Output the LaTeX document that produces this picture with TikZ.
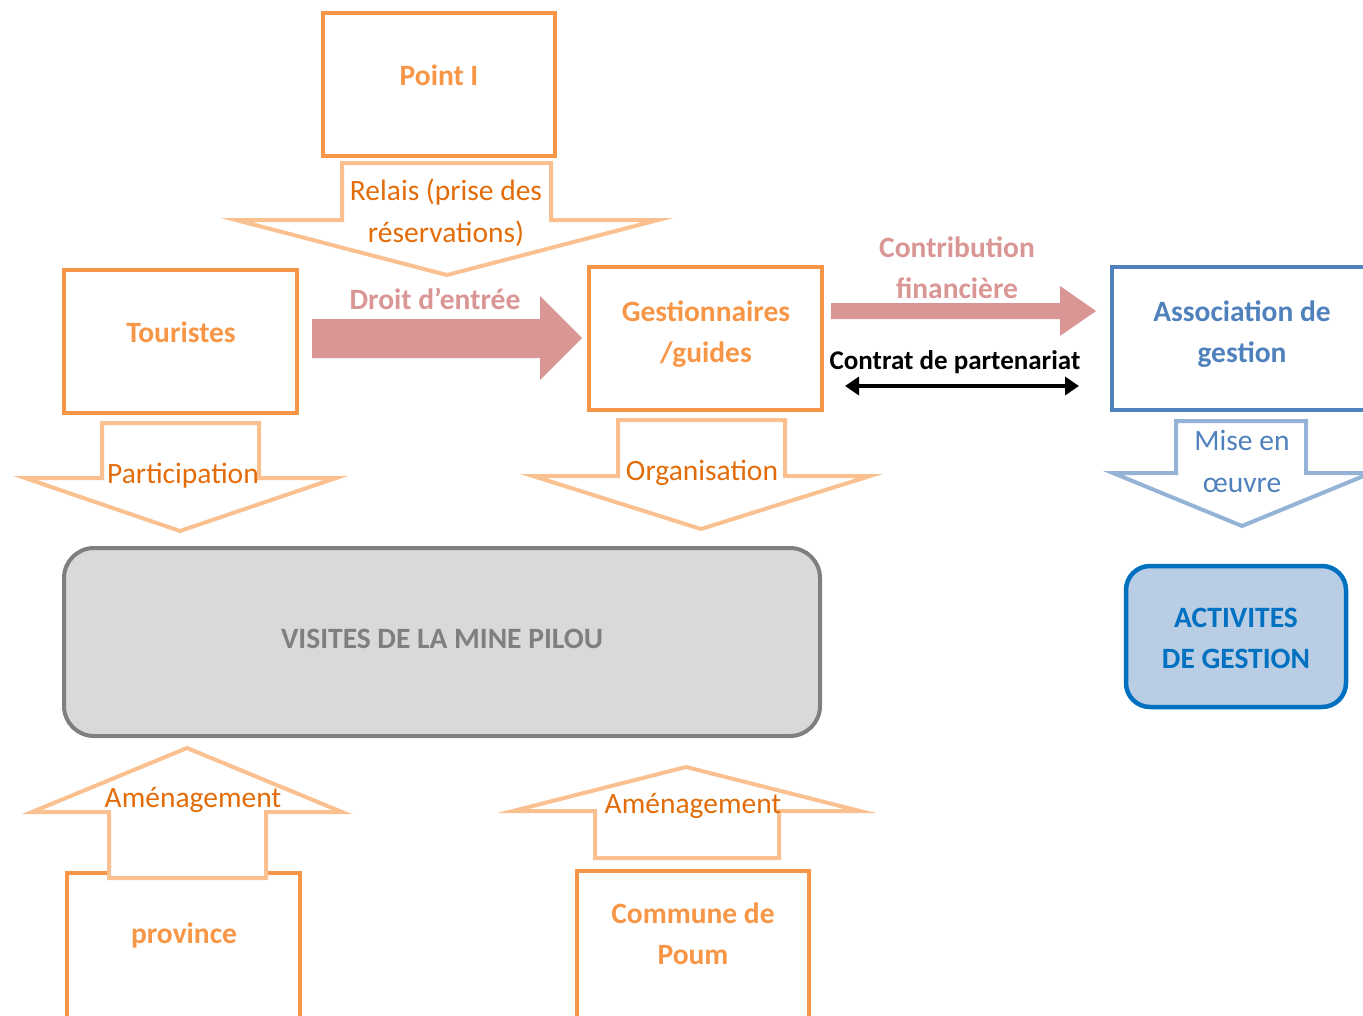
\documentclass[tikz,border=0pt]{standalone}
\usepackage{fontspec}
\setmainfont{Carlito}
\usetikzlibrary{arrows.meta}
\definecolor{boxorange}{HTML}{F79646}
\definecolor{txtorange}{HTML}{E36C09}
\definecolor{lightorange}{HTML}{FAC090}
\definecolor{pinkarrow}{HTML}{D99694}
\definecolor{assocblue}{HTML}{4F81BD}
\definecolor{lightblue}{HTML}{95B3D7}
\definecolor{actblue}{HTML}{0070C0}
\definecolor{actfill}{HTML}{B9CDE5}
\definecolor{visitfill}{HTML}{D9D9D9}
\definecolor{visitline}{HTML}{7F7F7F}
\begin{document}
\begin{tikzpicture}[x=1pt,y=-1pt,
  actor/.style={draw=boxorange,line width=4pt,fill=white},
  boxtext/.style={font=\fontsize{29.5}{41}\selectfont\bfseries,text=boxorange,align=center},
  bigarrow/.style={draw=lightorange,line width=4pt,fill=white,line join=miter},
  arrowtext/.style={font=\fontsize{29.5}{42}\selectfont,text=txtorange,align=center},
  flowarrow/.style={fill=pinkarrow,draw=none},
  flowtext/.style={font=\fontsize{29.5}{41}\selectfont\bfseries,text=pinkarrow,align=center}]
\useasboundingbox (0,0) rectangle (1363,1015);

% partner boxes
\draw[actor] (323,13) rectangle (555,156);
\node[boxtext] (point) at (439,75) {Point I};
\draw[actor] (64,270) rectangle (297,413);
\node[boxtext] (tour) at (181,332) {Touristes};
\draw[actor] (589,267) rectangle (822,410);
\node[boxtext] (gest) at (706,334) {Gestionnaires\\/guides};
\draw[draw=assocblue,line width=4pt] (1112,267) rectangle (1375,410);
\node[boxtext,text=assocblue] (assoc) at (1242,334) {Association de\\gestion};
\draw[actor] (67,873) rectangle (300,1020);
\node[boxtext] (prov) at (184,935) {province};
\draw[actor] (577,871) rectangle (809,1020);
\node[boxtext] (poum) at (693,934) {Commune de\\Poum};

% central activity and management activities
\draw[draw=visitline,fill=visitfill,line width=4pt,rounded corners=30pt] (64,548) rectangle (820,736);
\node[font=\fontsize{29.5}{36}\selectfont\bfseries,text=visitline] (visit) at (442,639) {VISITES DE LA MINE PILOU};
\draw[draw=actblue,fill=actfill,line width=4.5pt,rounded corners=24pt] (1126,566) rectangle (1346,707);
\node[boxtext,text=actblue] (act) at (1236,638) {ACTIVITES\\DE GESTION};

% hollow block arrows
\draw[bigarrow] (342,163) -- (551,163) -- (551,220) -- (658,220) -- (447,275) -- (236,220) -- (342,220) -- cycle;
\node[arrowtext] (relais) at (446,213) {Relais (prise des\\réservations)};
\draw[bigarrow] (102,423) -- (259,423) -- (259,478) -- (336,478) -- (180,531) -- (25,478) -- (102,478) -- cycle;
\node[arrowtext] (part) at (183,476) {Participation};
\draw[bigarrow] (618,420) -- (785,420) -- (785,476) -- (870,476) -- (701,529) -- (533,476) -- (618,476) -- cycle;
\node[arrowtext] (orga) at (702,473) {Organisation};
\draw[bigarrow,draw=lightblue] (1176,421) -- (1306,421) -- (1306,473) -- (1371,473) -- (1242,526) -- (1113,473) -- (1176,473) -- cycle;
\node[arrowtext,text=assocblue] (mise) at (1242,461) {Mise en\\œuvre};
\draw[bigarrow] (109,878) -- (266,878) -- (266,812) -- (342,812) -- (187,748) -- (32,812) -- (109,812) -- cycle;
\node[arrowtext] (amen1) at (193,800) {Aménagement};
\draw[bigarrow] (595,858) -- (779,858) -- (779,811) -- (860,811) -- (686,767) -- (513,811) -- (595,811) -- cycle;
\node[arrowtext] (amen2) at (693,806) {Aménagement};

% money flows
\draw[flowarrow] (312,319) -- (540,319) -- (540,296) -- (582,338) -- (540,380) -- (540,358) -- (312,358) -- cycle;
\node[flowtext] (droit) at (435,299) {Droit d’entrée};
\draw[flowarrow] (831,303) -- (1060,303) -- (1060,286) -- (1096,311) -- (1060,336) -- (1060,319) -- (831,319) -- cycle;
\node[flowtext] (contrib) at (957,268) {Contribution\\financière};

% partnership contract
\node[font=\fontsize{27}{30}\selectfont\bfseries] (contrat) at (955,362) {Contrat de partenariat};
\coordinate (cl) at (845,386);
\coordinate (cr) at (1079,386);
\draw[line width=4pt,{Triangle[length=14pt,width=18pt]}-{Triangle[length=14pt,width=18pt]}] (cl) -- (cr);
\end{tikzpicture}
\end{document}
